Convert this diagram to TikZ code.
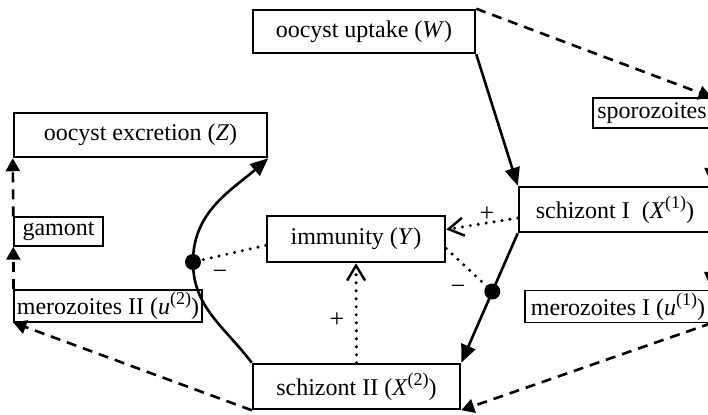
\documentclass[tikz,border=0pt]{standalone}
\usepackage{fontspec}
\setmainfont{Liberation Serif}
\usetikzlibrary{arrows.meta}
\newcommand{\mysup}[1]{\raisebox{0.42em}{\fontsize{9}{10}\selectfont #1}}
\begin{document}
\begin{tikzpicture}[x=0.5pt,y=-0.5pt,
  lbl/.style={font=\fontsize{12}{14}\selectfont},
  thickbox/.style={lbl, draw, line width=1.25pt, inner sep=1pt},
  thinbox/.style={lbl, draw, line width=0.7pt, inner sep=1pt},
  solidarrow/.style={line width=1.3pt, -{Triangle[length=9pt,width=7.5pt]}},
  dasharrow/.style={line width=1.3pt, dash pattern=on 5pt off 3.5pt, -{Triangle[length=6.5pt,width=7pt]}},
  dotline/.style={line width=1.7pt, line cap=round, dash pattern=on 0pt off 4pt},
  dotarrow/.style={dotline, -{Straight Barb[length=7.5pt,width=9pt,line width=1.2pt]}},
  blob/.style={circle, fill=black, minimum size=8pt, inner sep=0pt},
  sign/.style={font=\fontsize{13}{14}\selectfont, inner sep=0pt}]
\useasboundingbox (0,0) rectangle (708,414);
\clip (0,0) rectangle (708,414);

% boxes
\node[thickbox, minimum width=111pt, minimum height=21.5pt] (uptake) at (364,31.5) {oocyst uptake (\textit{W})};
\node[thickbox, minimum width=126.5pt, minimum height=22pt] (excr) at (140.5,135) {oocyst excretion (\textit{Z})};
\node[thinbox, minimum width=44.5pt, minimum height=14.5pt] (gamont) at (58.5,231.5) {gamont};
\node[thinbox, minimum width=94pt, minimum height=15pt] (merII) at (108,306) {merozoites II (\textit{u}\mysup{(2)})};
\node[thickbox, minimum width=89pt, minimum height=23pt] (imm) at (356,239) {immunity (\textit{Y})};
\node[thickbox, minimum width=96pt, minimum height=22.5pt] (schI) at (615,209.5) {schizont I\ \ (\textit{X}\mysup{(1)})};
\node[thinbox, minimum width=59pt, minimum height=15pt] (sporo) at (652,113) {sporozoites};
\node[thinbox, minimum width=93pt, minimum height=14.5pt] (merI) at (618,306.5) {merozoites I (\textit{u}\mysup{(1)})};
\node[thickbox, minimum width=103.5pt, minimum height=22.5pt] (schII) at (356.5,386.5) {schizont II (\textit{X}\mysup{(2)})};

% blobs
\node[blob] (dotL) at (193,262) {};

% solid arrows
\draw[solidarrow] (uptake.south east) -- (schI.north west);
\draw[solidarrow] (schI.south west) -- node[blob, pos=0.45] (dotR) {} (schII.north east);
\draw[solidarrow] (schII.north west) to[out=127,in=-90] (dotL.center) to[out=90,in=-139] (excr.south east);
\draw[solidarrow] (sporo.south east) -- (schI.north east);
\draw[solidarrow] (schI.south east) -- (merI.north east);

% dashed arrows
\draw[dasharrow] (uptake.north east) -- (sporo.north east);
\draw[dasharrow] (merI.south east) -- (schII.south east);
\draw[dasharrow] (schII.south west) -- (merII.south west);
\draw[dasharrow] (merII.north west) -- (gamont.south west);
\draw[dasharrow] (gamont.north west) -- (excr.south west);

% dotted influences
\draw[dotarrow] (schI.185) -- (imm.6);
\draw[dotline] (imm.-6) -- (dotR.center);
\draw[dotarrow] (schII.north) -- (imm.south);
\draw[dotline] (imm.184) -- (dotL.center);

% signs
\node[sign] (s1) at (487,214) {+};
\node[sign] (s2) at (458,290) {−};
\node[sign] (s3) at (337,320) {+};
\node[sign] (s4) at (220,275) {−};
\end{tikzpicture}
\end{document}
